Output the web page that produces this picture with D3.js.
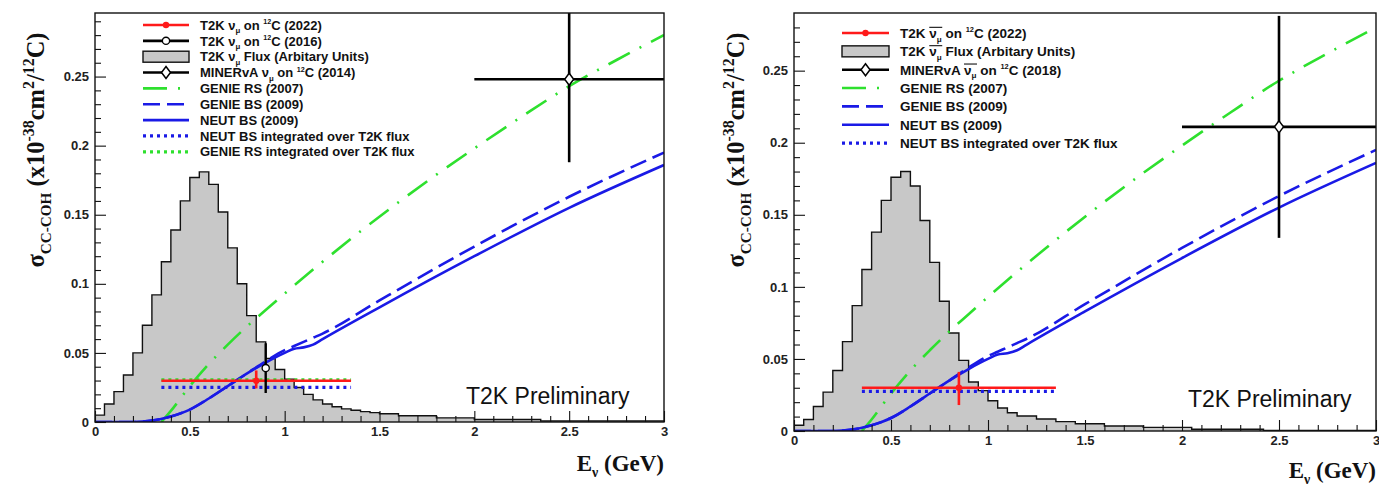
<!DOCTYPE html>
<html>
<head>
<meta charset="utf-8">
<script src="https://cdn.jsdelivr.net/npm/d3@7"></script>
<style>
  body { margin: 0; background: #fff; }
  svg { display: block; }
</style>
</head>
<body>
<svg id="chart" width="1379" height="491"></svg>
<script>
// ---------------- data ----------------
// Neutrino energy axis (GeV)
const xTickValues = [0, 0.5, 1, 1.5, 2, 2.5, 3];
const yTickValues = [0, 0.05, 0.1, 0.15, 0.2, 0.25];

// T2K nu_mu flux (arbitrary units, drawn on the cross-section scale)
const fluxNuEdges = [0,0.05,0.1,0.15,0.2,0.25,0.3,0.35,0.4,0.45,0.5,0.55,0.6,0.65,0.7,0.75,0.8,0.85,0.9,0.95,1.0,1.05,1.1,1.15,1.2,1.25,1.3,1.35,1.4,1.45,1.5,1.6,1.8,2.0,2.35,3.0];
const fluxNuValues = [0.005,0.013,0.022,0.034,0.050,0.070,0.092,0.116,0.139,0.160,0.177,0.181,0.172,0.152,0.126,0.100,0.077,0.058,0.046,0.038,0.031,0.025,0.020,0.016,0.013,0.011,0.0095,0.0085,0.0075,0.0068,0.006,0.0045,0.003,0.0018,0.0007];

// T2K anti-nu_mu flux
const fluxNubarEdges = [0,0.05,0.1,0.15,0.2,0.25,0.3,0.35,0.4,0.45,0.5,0.55,0.6,0.65,0.7,0.75,0.8,0.85,0.9,0.95,1.0,1.05,1.1,1.15,1.25,1.35,1.45,1.6,1.8,2.05,2.42,3.0];
const fluxNubarValues = [0.004,0.008,0.017,0.027,0.042,0.062,0.087,0.112,0.138,0.160,0.176,0.180,0.170,0.146,0.117,0.090,0.068,0.049,0.034,0.028,0.021,0.016,0.0127,0.0104,0.0083,0.0065,0.005,0.0035,0.0025,0.0012,0.0004];

// Model predictions, sigma (1e-38 cm^2 / 12C)
const genieRSEnergy = [0.35,0.4,0.5,0.6,0.7,0.8,0.9,1.0,1.2,1.4,1.6,1.8,2.0,2.25,2.5,2.75,3.0];
const genieRS2007   = [0,0.008,0.026,0.042,0.056,0.069,0.081,0.093,0.116,0.138,0.159,0.179,0.198,0.221,0.243,0.262,0.280];

const bsEnergy   = [0,0.2,0.25,0.3,0.4,0.5,0.6,0.7,0.8,0.9,1.0,1.05,1.1,1.15,1.2,1.5,2.0,2.5,3.0];
const neutBS2009 = [0,0,0.0003,0.001,0.004,0.009,0.017,0.026,0.035,0.043,0.050,0.053,0.054,0.056,0.060,0.083,0.120,0.155,0.186];
const genieBS2009= [0,0,0.0003,0.001,0.004,0.009,0.017,0.026,0.035,0.044,0.052,0.055,0.058,0.061,0.064,0.088,0.127,0.163,0.195];

// Flux-integrated predictions over the T2K energy window
const fluxWindow = [0.35, 1.35];
const neutBSIntegratedNu = 0.025;
const genieRSIntegratedNu = 0.0305;
const neutBSIntegratedNubar = 0.0275;

// Measurements: [energy, sigma, errLow, errHigh, eLow, eHigh]
const t2kNu2022     = [0.85, 0.0298, 0.0055, 0.0075, 0.35, 1.35];
const t2kNu2016     = [0.90, 0.039, 0.018, 0.018, 0.90, 0.90];
const minervaNu2014 = [2.5, 0.248, 0.060, 0.060, 2.0, 3.5];
const t2kNubar2022     = [0.85, 0.030, 0.012, 0.011, 0.35, 1.35];
const minervaNubar2018 = [2.5, 0.211, 0.077, 0.077, 2.0, 3.5];

// ---------------- styles ----------------
const C = {
  red: '#ff1a1a', blue: '#1a1ae6', green: '#2ee02e', gray: '#c8c8c8', black: '#000'
};
const SANS = "'Liberation Sans', Arial, Helvetica, sans-serif";
const SERIF = "'Liberation Serif', 'Times New Roman', serif";

const svg = d3.select('#chart');

// Writes a sequence of text parts with sub/superscripts into a <text>
function richText(sel, parts, fs) {
  let cur = 0;
  parts.forEach(p => {
    const target = p.sub ? 0.28 * fs : p.sup ? -0.42 * fs : 0;
    const ts = sel.append('tspan').text(p.t).attr('dy', target - cur);
    if (p.sub || p.sup) ts.attr('font-size', (p.scale || 0.65) * fs);
    cur = target;
  });
  return sel;
}

// Overline above a range of characters of a text element
function overline(textSel, startIdx, endIdx, yOff) {
  const node = textSel.node();
  const a = node.getStartPositionOfChar(startIdx);
  const b = node.getEndPositionOfChar(endIdx);
  d3.select(node.parentNode).append('line')
    .attr('x1', a.x).attr('x2', b.x + 0.5)
    .attr('y1', a.y + yOff).attr('y2', a.y + yOff)
    .attr('stroke', '#111').attr('stroke-width', 1.1);
}

function drawPanel(p) {
  const g = svg.append('g');
  const x = d3.scaleLinear().domain([0, 3]).range([p.left, p.right]);
  const y = d3.scaleLinear().domain([0, p.yMax]).range([p.bottom, p.top]);

  const clipId = 'clip-' + p.id;
  g.append('clipPath').attr('id', clipId).append('rect')
    .attr('x', p.left).attr('y', p.top)
    .attr('width', p.right - p.left).attr('height', p.bottom - p.top);
  const plot = g.append('g').attr('clip-path', `url(#${clipId})`);

  // flux histogram
  const steps = [[p.fluxEdges[0], 0]];
  p.fluxValues.forEach((v, i) => {
    steps.push([p.fluxEdges[i], v]);
    steps.push([p.fluxEdges[i + 1], v]);
  });
  steps.push([p.fluxEdges[p.fluxEdges.length - 1], 0]);
  const lineXY = d3.line().x(d => x(d[0])).y(d => y(d[1]));
  plot.append('path').attr('d', lineXY(steps) + 'Z')
    .attr('fill', C.gray).attr('stroke', 'none');
  plot.append('path').attr('d', lineXY(steps))
    .attr('fill', 'none').attr('stroke', '#111').attr('stroke-width', 1.4);

  // model curves
  const curve = d3.line().x(d => x(d[0])).y(d => y(d[1])).curve(d3.curveMonotoneX);
  plot.append('path').attr('d', curve(d3.zip(genieRSEnergy, genieRS2007)))
    .attr('fill', 'none').attr('stroke', C.green).attr('stroke-width', 2.6)
    .attr('stroke-dasharray', '24,11,2,11');
  plot.append('path').attr('d', curve(d3.zip(bsEnergy, genieBS2009)))
    .attr('fill', 'none').attr('stroke', C.blue).attr('stroke-width', 2.6)
    .attr('stroke-dasharray', '17,7');
  plot.append('path').attr('d', curve(d3.zip(bsEnergy, neutBS2009)))
    .attr('fill', 'none').attr('stroke', C.blue).attr('stroke-width', 2.6);

  // flux-integrated predictions
  p.integrated.forEach(d => {
    plot.append('line')
      .attr('x1', x(fluxWindow[0])).attr('x2', x(fluxWindow[1]))
      .attr('y1', y(d.value)).attr('y2', y(d.value))
      .attr('stroke', d.color).attr('stroke-width', 3.2)
      .attr('stroke-dasharray', '3,4');
  });

  // measurements
  p.points.forEach(d => {
    const [e, s, lo, hi, eLo, eHi] = d.data;
    plot.append('line').attr('x1', x(eLo)).attr('x2', x(eHi))
      .attr('y1', y(s)).attr('y2', y(s))
      .attr('stroke', d.color).attr('stroke-width', d.width);
    plot.append('line').attr('x1', x(e)).attr('x2', x(e))
      .attr('y1', y(s - lo)).attr('y2', y(s + hi))
      .attr('stroke', d.color).attr('stroke-width', d.width);
    drawMarker(plot, d.marker, x(e), y(s), d.color);
  });

  // frame
  g.append('rect').attr('x', p.left).attr('y', p.top)
    .attr('width', p.right - p.left).attr('height', p.bottom - p.top)
    .attr('fill', 'none').attr('stroke', '#111').attr('stroke-width', 1.4);

  // axes (ticks point inwards)
  const xMinor = d3.range(0, 3.0001, 0.1).filter(v => Math.abs(v * 2 - Math.round(v * 2)) > 1e-6);
  const yMinor = d3.range(0, p.yMax, 0.01).filter(v => Math.abs(v * 20 - Math.round(v * 20)) > 1e-6);

  g.append('g').attr('transform', `translate(0,${p.bottom})`)
    .call(d3.axisBottom(x).tickValues(xTickValues).tickSize(-11).tickPadding(5)
      .tickFormat(d => String(d)));
  g.append('g').attr('transform', `translate(0,${p.bottom})`)
    .call(d3.axisBottom(x).tickValues(xMinor).tickSize(-6).tickFormat(''));
  g.append('g').attr('transform', `translate(${p.left},0)`)
    .call(d3.axisLeft(y).tickValues(yTickValues).tickSize(-11).tickPadding(6)
      .tickFormat(d => String(d)));
  g.append('g').attr('transform', `translate(${p.left},0)`)
    .call(d3.axisLeft(y).tickValues(yMinor).tickSize(-6).tickFormat(''));
  g.selectAll('.domain').remove();
  g.selectAll('.tick line').attr('stroke', '#111').attr('stroke-width', 1.1);
  g.selectAll('.tick text').attr('font-family', SANS).attr('font-weight', 'bold')
    .attr('font-size', 13).attr('fill', '#222');

  // axis titles
  const ty = g.append('text').attr('font-family', SERIF).attr('font-weight', 'bold')
    .attr('font-size', p.titleSize).attr('fill', '#111')
    .attr('text-anchor', 'middle')
    .attr('transform', `translate(${p.yTitleX},${p.yTitleY}) rotate(-90)`);
  richText(ty, [
    { t: 'σ' }, { t: 'CC-COH', sub: true, scale: 0.62 }, { t: ' (x10' },
    { t: '-38', sup: true }, { t: 'cm' }, { t: '2', sup: true }, { t: '/' },
    { t: '12', sup: true }, { t: 'C)' }
  ], p.titleSize);

  const tx = g.append('text').attr('font-family', SERIF).attr('font-weight', 'bold')
    .attr('font-size', p.xTitleSize).attr('fill', '#111')
    .attr('text-anchor', 'end')
    .attr('x', p.right).attr('y', p.xTitleY);
  richText(tx, [{ t: 'E' }, { t: 'ν', sub: true, scale: 0.6 }, { t: ' (GeV)' }], p.xTitleSize);

  // preliminary tag
  g.append('text').attr('x', p.tagX).attr('y', p.tagY)
    .attr('font-family', SANS).attr('font-size', 23).attr('fill', '#111')
    .text('T2K Preliminary');

  drawLegend(g, p.legend);
}

function drawMarker(g, type, cx, cy, color) {
  if (type === 'dot') {
    g.append('circle').attr('cx', cx).attr('cy', cy).attr('r', 3.2).attr('fill', color);
  } else if (type === 'circle') {
    g.append('circle').attr('cx', cx).attr('cy', cy).attr('r', 3.6)
      .attr('fill', '#fff').attr('stroke', color).attr('stroke-width', 1.3);
  } else if (type === 'diamond') {
    g.append('path')
      .attr('d', `M${cx},${cy - 6}L${cx + 4.5},${cy}L${cx},${cy + 6}L${cx - 4.5},${cy}Z`)
      .attr('fill', '#fff').attr('stroke', color).attr('stroke-width', 1.5);
  }
}

function drawLegend(g, L) {
  L.entries.forEach((d, i) => {
    const cy = L.y0 + i * L.dy;
    const x0 = L.x0, x1 = L.x1, xm = (x0 + x1) / 2;
    const s = d.sample;
    if (s.kind === 'box') {
      g.append('rect').attr('x', x0).attr('y', cy - 5.5).attr('width', x1 - x0).attr('height', 11)
        .attr('fill', C.gray).attr('stroke', '#111').attr('stroke-width', 1.4);
    } else {
      g.append('line').attr('x1', x0).attr('x2', x1).attr('y1', cy).attr('y2', cy)
        .attr('stroke', s.color).attr('stroke-width', s.width || 2.6)
        .attr('stroke-dasharray', s.dash || null);
      if (s.marker) drawMarker(g, s.marker, xm, cy, s.color);
    }
    const t = g.append('text').attr('x', L.tx).attr('y', cy + 0.36 * L.fs)
      .attr('font-family', SANS).attr('font-weight', 'bold')
      .attr('font-size', L.fs).attr('fill', '#111');
    richText(t, d.label, L.fs);
    if (d.bar) overline(t, d.bar[0], d.bar[1], -0.78 * L.fs);
  });
}

const nuMu = [{ t: 'ν' }, { t: 'μ', sub: true, scale: 0.6 }];

drawPanel({
  id: 'nu', left: 95, right: 664, top: 13, bottom: 422, yMax: 0.296,
  fluxEdges: fluxNuEdges, fluxValues: fluxNuValues,
  integrated: [
    { value: genieRSIntegratedNu, color: C.green },
    { value: neutBSIntegratedNu, color: C.blue }
  ],
  points: [
    { data: t2kNu2022, color: C.red, width: 2.6, marker: 'dot' },
    { data: t2kNu2016, color: C.black, width: 2.4, marker: 'circle' },
    { data: minervaNu2014, color: C.black, width: 2.6, marker: 'diamond' }
  ],
  titleSize: 24.5, xTitleSize: 23, yTitleX: 44, yTitleY: 150, xTitleY: 471,
  tagX: 466, tagY: 404,
  legend: {
    x0: 143, x1: 189, tx: 200, y0: 25, dy: 15.85, fs: 13,
    entries: [
      { sample: { color: C.red, marker: 'dot' }, label: [{ t: 'T2K ' }, ...nuMu, { t: ' on ' }, { t: '12', sup: true, scale: 0.55 }, { t: 'C (2022)' }] },
      { sample: { color: C.black, marker: 'circle' }, label: [{ t: 'T2K ' }, ...nuMu, { t: ' on ' }, { t: '12', sup: true, scale: 0.55 }, { t: 'C (2016)' }] },
      { sample: { kind: 'box' }, label: [{ t: 'T2K ' }, ...nuMu, { t: ' Flux (Arbitary Units)' }] },
      { sample: { color: C.black, marker: 'diamond' }, label: [{ t: 'MINERvA ' }, ...nuMu, { t: ' on ' }, { t: '12', sup: true, scale: 0.55 }, { t: 'C (2014)' }] },
      { sample: { color: C.green, dash: '24,11,2,11' }, label: [{ t: 'GENIE RS (2007)' }] },
      { sample: { color: C.blue, dash: '17,7' }, label: [{ t: 'GENIE BS (2009)' }] },
      { sample: { color: C.blue }, label: [{ t: 'NEUT BS (2009)' }] },
      { sample: { color: C.blue, dash: '3,4', width: 3.2 }, label: [{ t: 'NEUT BS integrated over T2K flux' }] },
      { sample: { color: C.green, dash: '3,4', width: 3.2 }, label: [{ t: 'GENIE RS integrated over T2K flux' }] }
    ]
  }
});

drawPanel({
  id: 'nubar', left: 794, right: 1376, top: 13, bottom: 431, yMax: 0.29,
  fluxEdges: fluxNubarEdges, fluxValues: fluxNubarValues,
  integrated: [
    { value: neutBSIntegratedNubar, color: C.blue }
  ],
  points: [
    { data: t2kNubar2022, color: C.red, width: 2.6, marker: 'dot' },
    { data: minervaNubar2018, color: C.black, width: 2.6, marker: 'diamond' }
  ],
  titleSize: 24.5, xTitleSize: 23, yTitleX: 744, yTitleY: 150, xTitleY: 478,
  tagX: 1188, tagY: 407,
  legend: {
    x0: 842, x1: 889, tx: 900, y0: 33, dy: 18.35, fs: 13.5,
    entries: [
      { sample: { color: C.red, marker: 'dot' }, bar: [4, 5], label: [{ t: 'T2K ' }, ...nuMu, { t: ' on ' }, { t: '12', sup: true, scale: 0.55 }, { t: 'C (2022)' }] },
      { sample: { kind: 'box' }, bar: [4, 5], label: [{ t: 'T2K ' }, ...nuMu, { t: ' Flux (Arbitary Units)' }] },
      { sample: { color: C.black, marker: 'diamond' }, bar: [8, 9], label: [{ t: 'MINERvA ' }, ...nuMu, { t: ' on ' }, { t: '12', sup: true, scale: 0.55 }, { t: 'C (2018)' }] },
      { sample: { color: C.green, dash: '24,11,2,11' }, label: [{ t: 'GENIE RS (2007)' }] },
      { sample: { color: C.blue, dash: '17,7' }, label: [{ t: 'GENIE BS (2009)' }] },
      { sample: { color: C.blue }, label: [{ t: 'NEUT BS (2009)' }] },
      { sample: { color: C.blue, dash: '3,4', width: 3.2 }, label: [{ t: 'NEUT BS integrated over T2K flux' }] }
    ]
  }
});
</script>
</body>
</html>
